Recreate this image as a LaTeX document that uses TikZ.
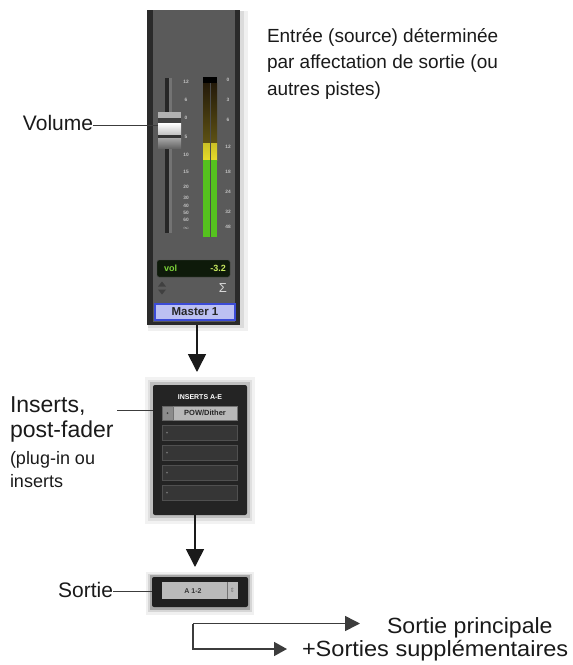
\documentclass[tikz,border=0pt]{standalone}
\usepackage{fontspec}
\setmainfont{Liberation Sans}
\newfontfamily\symfont{DejaVu Sans}
\usetikzlibrary{arrows.meta,calc}
\definecolor{stripgray}{HTML}{5A5A5A}
\definecolor{stripdark}{HTML}{2A2A2A}
\definecolor{meterg}{HTML}{55C21E}
\definecolor{metery}{HTML}{E6DC2A}
\definecolor{meterdk}{HTML}{241A0A}
\definecolor{meterol}{HTML}{5E5214}
\definecolor{volbg}{HTML}{0E1A0A}
\definecolor{volg}{HTML}{7ED43A}
\definecolor{volv}{HTML}{C8E860}
\definecolor{masterfill}{HTML}{BCC0F2}
\definecolor{masterbd}{HTML}{3B4BD6}
\definecolor{slotbg}{HTML}{363636}
\definecolor{slotbd}{HTML}{505050}
\definecolor{boxdark}{HTML}{242424}
\definecolor{lightslot}{HTML}{B8B8B8}
\definecolor{ink}{HTML}{1A1A1A}
\definecolor{scalecol}{HTML}{C4C4C4}
\begin{document}
\begin{tikzpicture}[x=1pt,y=-1pt,
  box/.style={inner sep=0pt, outer sep=0pt, anchor=north west},
  lbl/.style={inner sep=0pt, outer sep=0pt, anchor=base west, text=ink},
  leader/.style={line width=1pt, draw=ink!85},
  flow/.style={line width=1.6pt, draw=ink, -{Triangle[width=18pt,length=18pt]}},
  outflow/.style={line width=1.6pt, draw=ink!85},
  scl/.style={inner sep=0pt, text=scalecol, font=\fontsize{4.8}{5}\selectfont\bfseries},
  slot/.style={box, fill=slotbg, draw=slotbd, line width=0.6pt, minimum width=75pt, minimum height=15pt},
  big/.style={font=\fontsize{21}{25}\selectfont},
  bigger/.style={font=\fontsize{23}{27}\selectfont},
  small/.style={font=\fontsize{18}{22}\selectfont},
  note/.style={font=\fontsize{19}{23}\selectfont},
  outlbl/.style={font=\fontsize{22}{26}\selectfont}
]
\useasboundingbox (0,0) rectangle (573,665);

% ---------- channel strip ----------
\fill[black!6] (148,11) rectangle (248,331);
\fill[black!14] (148,11) rectangle (244,328);
\node[box, fill=stripdark, minimum width=93pt, minimum height=315pt] (strip) at (147,10) {};
\fill[stripgray] (153,10) rectangle (235,322);
% fader slot
\fill[black!85] (165,78) rectangle (168.5,233);
\fill[black!55] (168.5,78) rectangle (171.5,233);
% fader cap
\node[box, fill=black!45, minimum width=23pt, minimum height=36pt] (fader) at (158,112) {};
\fill[black!30] (158,112) rectangle (181,118);
\fill[black!75] (158,118) rectangle (181,123);
\shade[top color=white, bottom color=black!25] (158,123) rectangle (181,135);
\fill[black!80] (158,135) rectangle (181,138);
\shade[top color=black!35, bottom color=black!60] (158,138) rectangle (181,148);
% left scale
\foreach \v/\y [count=\i] in {12/82,6/100,0/118,5/137,10/155,15/172,20/187,30/198,40/206,50/213,60/220,$\infty$/228}
  \node[scl, name=ls\i] at (186,\y) {\v};
% meter
\node[box, fill=black, minimum width=14pt, minimum height=160pt] (meter) at (203,77) {};
\shade[top color=meterdk, bottom color=meterol] (203,83) rectangle (217,143);
\shade[top color=metery!80!meterol, bottom color=metery] (203,143) rectangle (217,160);
\fill[meterg] (203,160) rectangle (217,237);
\draw[black!70, line width=0.8pt] (210,83) -- (210,237);
% right scale
\foreach \v/\y [count=\i] in {0/80,3/100,6/120,12/147,18/172,24/192,32/212,48/227}
  \node[scl, name=rs\i] at (228,\y) {\v};
% volume display
\node[box, fill=volbg, draw=black!70, rounded corners=2pt, minimum width=73pt, minimum height=17pt] (vol) at (157,260) {};
\node[inner sep=0pt, anchor=west, text=volg, font=\fontsize{9}{10}\selectfont\bfseries] (voltxt) at (164,268.5) {vol};
\node[inner sep=0pt, anchor=east, text=volv, font=\fontsize{9}{10}\selectfont\bfseries] (volval) at (226,268.5) {-3.2};
% up/down icon and sigma
\fill[black!75] (158,286.5) -- (166,286.5) -- (162,281.5) -- cycle;
\fill[black!75] (158,289.5) -- (166,289.5) -- (162,294.5) -- cycle;
\node[inner sep=0pt, text=black!15, font=\fontsize{13}{14}\selectfont] (sigma) at (223,288) {Σ};
% master label
\node[box, fill=masterfill, draw=masterbd, line width=1.6pt, minimum width=80pt, minimum height=16pt,
      font=\fontsize{11.5}{12}\selectfont\bfseries, text=black!85] (master) at (155,304) {Master 1};

% ---------- inserts ----------
\fill[black!5] (145,377) rectangle (255,524);
\fill[black!12] (148,380) rectangle (252,521);
\fill[black!25] (150,382) rectangle (250,518);
\node[box, fill=boxdark, rounded corners=2pt, minimum width=94pt, minimum height=130pt] (ins) at (153,385) {};
\node[inner sep=0pt, text=white, font=\fontsize{7}{8}\selectfont\bfseries] (inshead) at (200,397) {INSERTS A-E};
\node[box, fill=black!45, draw=black!60, line width=0.5pt, minimum width=11pt, minimum height=14pt] (s1btn) at (162,406) {};
\fill[black!75] (s1btn.center) circle (1pt);
\node[box, fill=lightslot, draw=black!55, line width=0.5pt, minimum width=64pt, minimum height=14pt,
      font=\fontsize{7.5}{8}\selectfont\bfseries, text=black!85] (slot1) at (173,406) {POW/Dither};
\foreach \y [count=\i from 2] in {425,445,465,485} {
  \node[slot, name=slot\i] at (162,\y) {};
  \fill[black!55] (167,\y+7.5) circle (1pt);
}

% ---------- output ----------
\fill[black!6] (146,572) rectangle (254,615);
\fill[black!16] (148,574) rectangle (252,612);
\fill[black!35] (150,575) rectangle (250,610);
\node[box, fill=black!88, rounded corners=2pt, minimum width=96pt, minimum height=30pt] (sortie) at (152,577) {};
\node[box, fill=black!27, minimum width=76pt, minimum height=17pt] (outsel) at (162,582) {};
\draw[black!55, line width=0.6pt] (227,582) -- (227,599);
\node[inner sep=0pt, text=black!80, font=\fontsize{7}{8}\selectfont\bfseries] (outname) at (193,591) {A 1-2};
\node[inner sep=0pt, text=black!55, font=\symfont\fontsize{6}{7}\selectfont] (outarr) at (232.5,590.5) {⇕};

% ---------- flow arrows ----------
\draw[flow] ([xshift=3.5pt]strip.south) -- ([xshift=-3pt,yshift=13pt]ins.north);
\draw[flow] ([xshift=-5pt]ins.south) -- ([xshift=-5pt,yshift=10pt]sortie.north);

\coordinate (obranch) at (193,623.5);
\coordinate (omain) at (360,623.5);
\coordinate (oextra) at (287,649);
\draw[outflow, -{Triangle[width=15pt,length=15pt]}] (obranch) -- (omain);
\draw[outflow, -{Triangle[width=14pt,length=13pt]}] (obranch) |- (oextra);

% ---------- labels ----------
\node[lbl, note] (src1) at (267,42) {Entrée (source) déterminée};
\node[lbl, note] (src2) at (267,68.5) {par affectation de sortie (ou};
\node[lbl, note] (src3) at (267,95) {autres pistes)};

\node[lbl, big] (vollbl) at (23,130) {Volume};
\coordinate (volpt) at ([yshift=5pt]vollbl.base east);
\draw[leader] (volpt) -- (volpt -| fader.west);

\node[lbl, bigger] (ins1) at (10,412) {Inserts,};
\node[lbl, bigger] (ins2) at (10,437) {post-fader};
\node[lbl, small] (ins3) at (10,464) {(plug-in ou};
\node[lbl, small] (ins4) at (10,487) {inserts};
\coordinate (inspt) at (117,410);
\draw[leader] (inspt) -- (inspt -| ins.west);

\node[lbl, big, anchor=base east] (sortlbl) at (113,597) {Sortie};
\coordinate (sortpt) at ([yshift=6pt]sortlbl.base east);
\draw[leader] (sortpt) -- (sortpt -| sortie.west);

\node[lbl, outlbl] (main) at (387,633) {\scalebox{1.05}[1]{Sortie principale}};
\node[lbl, outlbl] (extra) at (302,656) {\scalebox{1.07}[1]{+Sorties supplémentaires}};
\end{tikzpicture}
\end{document}
